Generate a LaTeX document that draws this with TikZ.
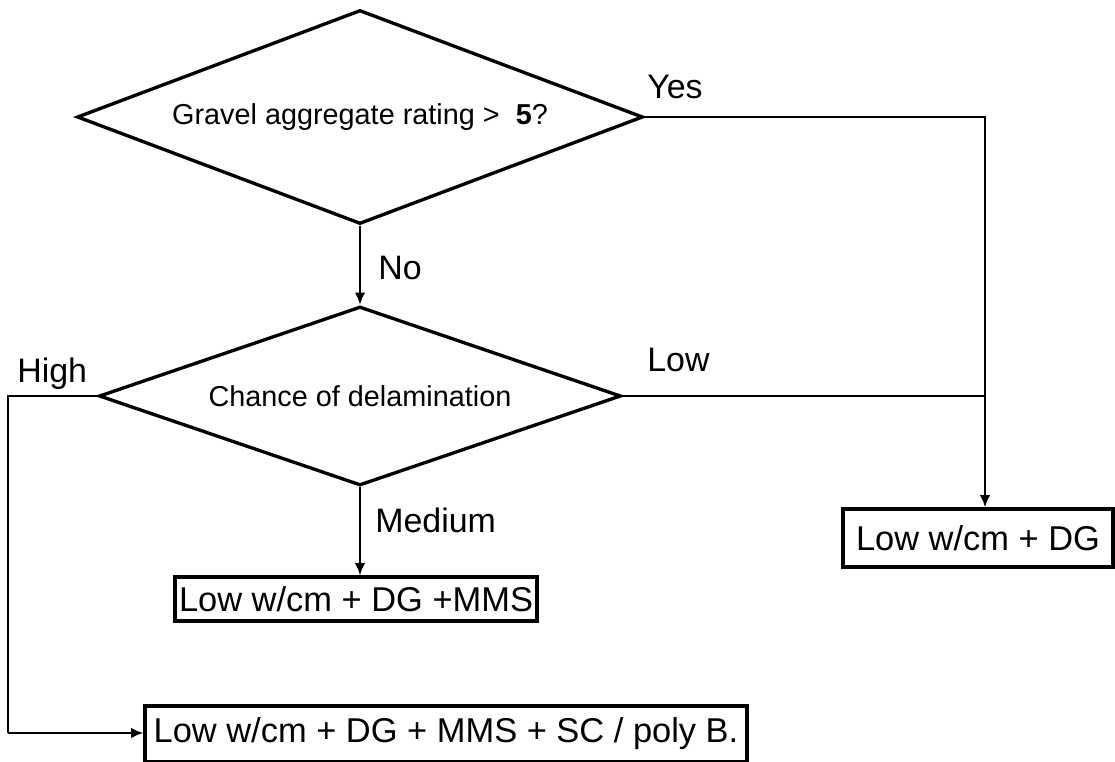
\documentclass[tikz,border=0pt]{standalone}
\usepackage{fontspec}
\setmainfont{Liberation Sans}
\usetikzlibrary{shapes.geometric,arrows,arrows.meta,positioning,calc}

\begin{document}
\begin{tikzpicture}[x=0.02cm,y=-0.02cm,
	decision/.style={diamond,draw,line width=1.9pt,inner sep=0pt,font=\fontsize{16.4}{19}\selectfont},
	result/.style={rectangle,draw,line width=1.8pt,inner sep=0pt,font=\fontsize{19.6}{23}\selectfont},
	branch/.style={anchor=west,inner sep=0pt,font=\fontsize{19.3}{23}\selectfont},
	link/.style={line width=0.9pt},
	flow/.style={-{Latex[length=7pt,width=6pt]},line width=1.6pt}]
	\useasboundingbox (0,0) rectangle (1115,761);
	\node[decision,aspect=2.645,minimum width=11.32cm,minimum height=4.28cm] (rating) at (360,117) {Gravel aggregate rating >\ \ \textbf{5}?};
	\node[decision,aspect=2.916,minimum width=10.44cm,minimum height=3.58cm] (delam) at (360,396) {Chance of delamination};
	\node[result,minimum width=5.4cm,minimum height=1.16cm] (lowDG) at (978,538) {Low w/cm + DG};
	\node[result,minimum width=7.24cm,minimum height=0.88cm] (mms) at (356,599) {Low w/cm + DG +MMS};
	\node[result,minimum width=12.04cm,minimum height=1.12cm] (polyB) at (446,734) {Low w/cm + DG + MMS + SC / poly B.};
	\coordinate (yesCorner) at (985,117);
	\coordinate (lowJoin) at (985,396);
	\coordinate (highCorner) at (8,396);
	\coordinate (highTurn) at (8,733);
	\draw[link] (rating.east) -- (yesCorner) -- (lowJoin);
	\draw[link] (delam.east) -- (lowJoin);
	\draw[flow] (lowJoin) -- (lowJoin |- lowDG.north);
	\draw[flow] (rating.south) -- (delam.north);
	\draw[flow] (delam.south) -- (delam.south |- mms.north);
	\draw[link] (delam.west) -- (highCorner) -- (highTurn);
	\draw[flow] (highTurn) -- (highTurn -| polyB.west);
	\node[branch] (yesLbl) at (647,87) {Yes};
	\node[branch] (noLbl) at (378,268) {No};
	\node[branch] (lowLbl) at (647,360) {Low};
	\node[branch] (highLbl) at (17,374) {High};
	\node[branch] (mediumLbl) at (375,520) {Medium};
\end{tikzpicture}
\end{document}
